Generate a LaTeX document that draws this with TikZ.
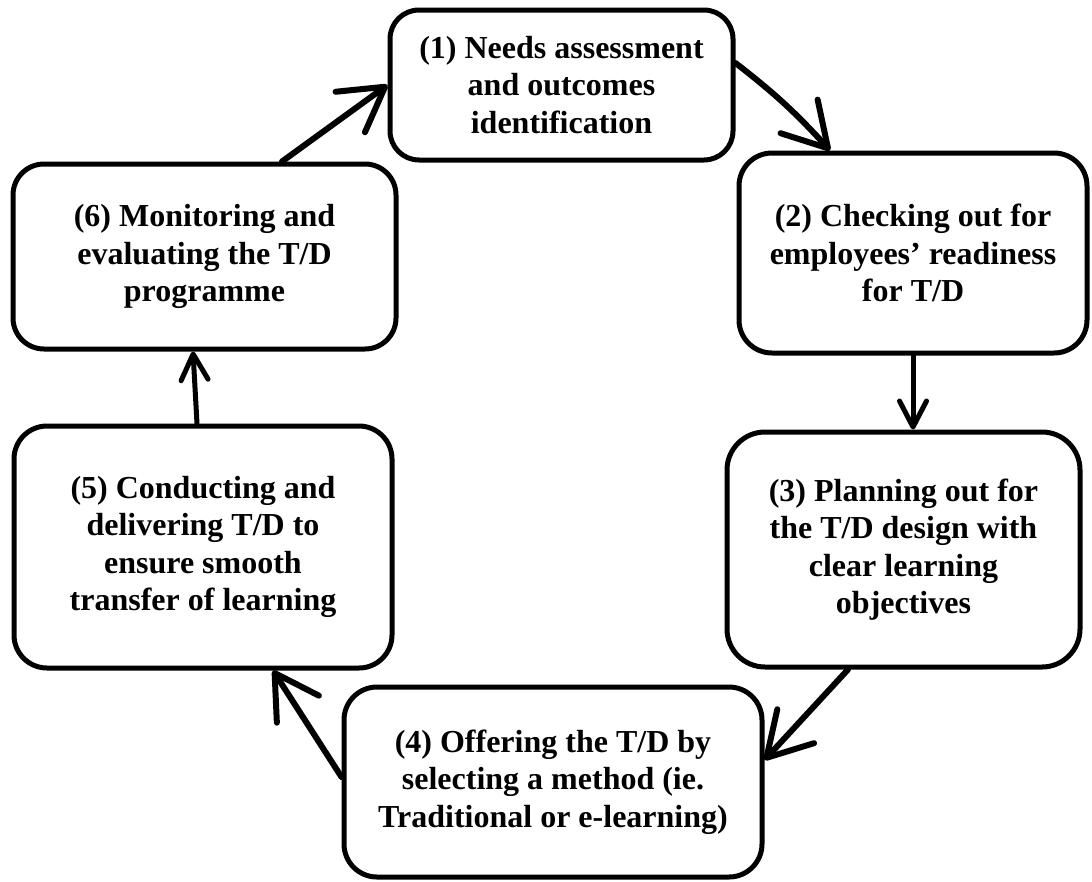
\documentclass[tikz,border=0pt]{standalone}
\usepackage{fontspec}
\setmainfont{Liberation Serif}
\usetikzlibrary{arrows.meta}
\tikzset{
  stage/.style={draw=black, line width=5pt, rounded corners=33pt, align=center, inner sep=0pt,
    font=\bfseries\fontsize{32}{37.5}\selectfont},
  bigflow/.style={line width=6pt, line cap=round, -{Straight Barb[round, length=43pt, width=50pt]}},
  smallflow/.style={line width=5pt, line cap=round, -{Straight Barb[round, length=26pt, width=27pt]}}
}
\begin{document}
\begin{tikzpicture}[x=1pt,y=-1pt]
\useasboundingbox (0,0) rectangle (1092,881);
\node[stage, rounded corners=29pt, minimum width=343pt, minimum height=150pt] (b1) at (561.5,85)
  {(1) Needs assessment\\and outcomes\\identification};
\node[stage, minimum width=348pt, minimum height=200pt] (b2) at (913,253)
  {(2) Checking out for\\employees’ readiness\\for T/D};
\node[stage, rounded corners=38pt, minimum width=353pt, minimum height=235pt] (b3) at (903.5,549.5)
  {(3) Planning out for\\the T/D design with\\clear learning\\objectives};
\node[stage, minimum width=418pt, minimum height=190pt] (b4) at (553,782)
  {(4) Offering the T/D by\\selecting a method (ie.\\Traditional or e-learning)};
\node[stage, minimum width=378pt, minimum height=242pt] (b5) at (203,547)
  {(5) Conducting and\\delivering T/D to\\ensure smooth\\transfer of learning};
\node[stage, rounded corners=31pt, minimum width=383pt, minimum height=185pt] (b6) at (204.5,256.5)
  {(6) Monitoring and\\evaluating the T/D\\programme};

\draw[bigflow] ([yshift=22pt]b1.east) to[bend left=5] ([xshift=-83pt]b2.north);
\draw[smallflow] (b2.south) -- ([xshift=9.5pt]b3.north);
\draw[bigflow] ([xshift=-55.5pt]b3.south) -- ([yshift=22pt]b4.east);
\draw[bigflow] ([yshift=5pt]b4.west) -- ([xshift=70pt]b5.south);
\draw[smallflow] ([xshift=-6pt]b5.north) -- ([xshift=-11.5pt]b6.south);
\draw[bigflow] ([xshift=77.5pt]b6.north) -- (b1.west);
\end{tikzpicture}
\end{document}
